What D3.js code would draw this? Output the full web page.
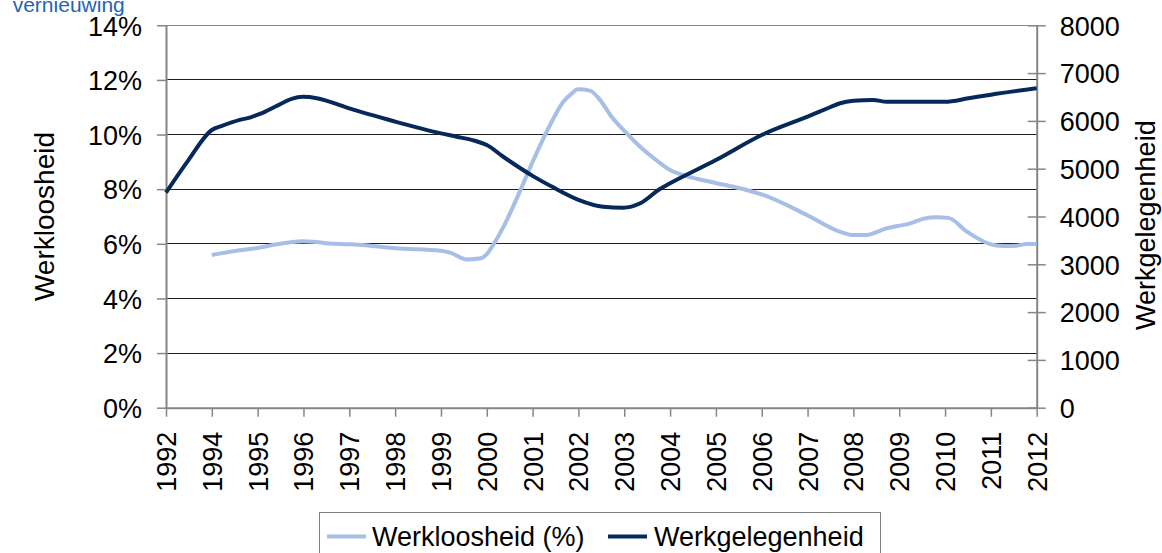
<!DOCTYPE html>
<html>
<head>
<meta charset="utf-8">
<script src="https://cdn.jsdelivr.net/npm/d3@7"></script>
<style>
  html, body { margin: 0; padding: 0; background: #ffffff; }
  svg { display: block; font-family: "Liberation Sans", Arial, sans-serif; }
</style>
</head>
<body>
<svg id="chart" width="1162" height="553"></svg>
<script>
// ---- data ----
const xLabels = ["1992","1994","1995","1996","1997","1998","1999","2000","2001","2002","2003","2004","2005","2006","2007","2008","2009","2010","2011","2012"];
const leftTicks = [0, 0.02, 0.04, 0.06, 0.08, 0.10, 0.12, 0.14];
const rightTicks = [0, 1000, 2000, 3000, 4000, 5000, 6000, 7000, 8000];
const seriesNames = ["Werkloosheid (%)", "Werkgelegenheid"];

// Werkgelegenheid (right axis): position along category axis, value
const empPos = [0, 0.49, 1.0, 1.22, 1.61, 1.83, 2.05, 2.45, 2.74, 2.98, 3.29, 3.51, 4.02, 5.0, 6.0, 6.34, 6.74, 7.0, 7.36, 8.0, 8.45, 9.0, 9.54, 9.98, 10.35, 10.77, 11.0, 12.0, 13.0, 14.0, 14.49, 14.71, 15.0, 15.43, 15.73, 17.0, 17.51, 18.0, 19.0];
const empVal = [4500, 5180, 5810, 5895, 6020, 6070, 6145, 6330, 6460, 6505, 6475, 6420, 6255, 5985, 5740, 5670, 5585, 5495, 5250, 4850, 4610, 4350, 4205, 4184, 4276, 4569, 4694, 5180, 5705, 6090, 6285, 6370, 6420, 6437, 6400, 6400, 6473, 6548, 6682];

// Werkloosheid (left axis, fraction)
const unempPos = [1.0, 1.5, 2.0, 2.55, 2.98, 3.21, 3.5, 4.0, 4.45, 5.0, 6.0, 6.2, 6.56, 6.85, 7.0, 7.14, 7.36, 7.72, 8.0, 8.38, 8.67, 8.85, 8.99, 9.25, 9.47, 9.72, 10.05, 10.34, 10.74, 11.0, 11.36, 12.02, 12.67, 13.03, 13.98, 14.71, 15.0, 15.25, 15.73, 16.24, 16.53, 16.82, 17.07, 17.48, 17.98, 18.27, 18.56, 18.78, 19.0];
const unempVal = [5.59, 5.74, 5.85, 6.02, 6.09, 6.08, 6.02, 5.98, 5.93, 5.84, 5.75, 5.68, 5.43, 5.46, 5.62, 5.96, 6.61, 7.91, 9.0, 10.35, 11.2, 11.5, 11.66, 11.61, 11.27, 10.66, 10.05, 9.56, 9.01, 8.70, 8.48, 8.22, 7.97, 7.79, 7.06, 6.44, 6.32, 6.32, 6.57, 6.75, 6.92, 6.97, 6.95, 6.44, 5.99, 5.92, 5.93, 5.99, 5.99].map(v => v / 100);

// ---- layout ----
const L = 166, R = 1036.7, T = 25.3, B = 407.7;
const cLight = "#a7bfe7", cDark = "#06295a", axisCol = "#868686", gridCol = "#1e1e1e";

const svg = d3.select("#chart");
const x = d3.scaleLinear().domain([0, xLabels.length - 1]).range([L, R]);
const yL = d3.scaleLinear().domain([0, 0.14]).range([B, T]);
const yR = d3.scaleLinear().domain([0, 8000]).range([B, T]);

// title fragment at top-left (cut off by the top edge, as in the original)
svg.append("text").attr("x", 12.7).attr("y", 11.5).attr("font-size", 21).attr("fill", "#1f64b4").text("vernieuwing");

// gridlines
svg.append("g").selectAll("line").data(leftTicks.filter(d => d > 0)).join("line")
  .attr("x1", L).attr("x2", R).attr("y1", d => yL(d)).attr("y2", d => yL(d))
  .attr("stroke", d => d === 0.14 ? axisCol : gridCol).attr("stroke-width", 1)
  .attr("shape-rendering", "crispEdges");

// left axis
const gL = svg.append("g").attr("transform", `translate(${L},0)`)
  .call(d3.axisLeft(yL).tickValues(leftTicks).tickFormat(d3.format(".0%")).tickSizeInner(9).tickSizeOuter(0).tickPadding(15));
// right axis
const gR = svg.append("g").attr("transform", `translate(${R},0)`)
  .call(d3.axisRight(yR).tickValues(rightTicks).tickFormat(d3.format("d")).tickSizeInner(9).tickSizeOuter(0).tickPadding(14));
gR.selectAll(".tick line").attr("x1", -9);
// bottom axis
const gB = svg.append("g").attr("transform", `translate(0,${B})`)
  .call(d3.axisBottom(x).tickValues(d3.range(xLabels.length)).tickFormat(i => xLabels[i]).tickSizeInner(9).tickSizeOuter(0));
gB.selectAll(".tick text")
  .attr("transform", "translate(9.5,24) rotate(-90)")
  .attr("text-anchor", "end").attr("dy", 0).attr("y", 0).attr("x", 0);

[gL, gR, gB].forEach(g => {
  g.select(".domain").attr("stroke", axisCol).attr("stroke-width", 2);
  g.selectAll(".tick line").attr("stroke", axisCol).attr("stroke-width", 1.5);
  g.selectAll(".tick text").attr("fill", "#000").attr("font-size", 27)
    .attr("font-family", "'Liberation Sans', Arial, sans-serif");
});
gL.selectAll(".tick text").attr("dy", "0.36em");
gR.selectAll(".tick text").attr("dy", "0.36em");

// axis titles
svg.append("text").attr("transform", `translate(53.5,${(T + B) / 2}) rotate(-90)`)
  .attr("text-anchor", "middle").attr("font-size", 28).text("Werkloosheid");

svg.append("clipPath").attr("id", "rclip").append("rect")
  .attr("x", 1100).attr("y", 122).attr("width", 100).attr("height", 300);
svg.append("g").attr("clip-path", "url(#rclip)")
  .append("text")
  .attr("transform", "translate(1155,330) rotate(-90)")
  .attr("text-anchor", "start").attr("font-size", 27).text("Werkgelegenheid");

// lines
const lineL = d3.line().x(d => x(d[0])).y(d => yL(d[1])).curve(d3.curveMonotoneX);
const lineR = d3.line().x(d => x(d[0])).y(d => yR(d[1])).curve(d3.curveMonotoneX);

svg.append("path").datum(unempPos.map((p, i) => [p, unempVal[i]]))
  .attr("d", lineL).attr("fill", "none").attr("stroke", cLight).attr("stroke-width", 4)
  .attr("stroke-linejoin", "round");
svg.append("path").datum(empPos.map((p, i) => [p, empVal[i]]))
  .attr("d", lineR).attr("fill", "none").attr("stroke", cDark).attr("stroke-width", 4)
  .attr("stroke-linejoin", "round");

// legend
const lg = svg.append("g");
lg.append("rect").attr("x", 319.5).attr("y", 512.5).attr("width", 561).attr("height", 50)
  .attr("fill", "#fff").attr("stroke", "#808080").attr("stroke-width", 1);
const legItems = [
  { name: seriesNames[0], color: cLight, x0: 327, tx: 372 },
  { name: seriesNames[1], color: cDark, x0: 608, tx: 654 }
];
legItems.forEach(it => {
  lg.append("line").attr("x1", it.x0).attr("x2", it.x0 + 39).attr("y1", 536.5).attr("y2", 536.5)
    .attr("stroke", it.color).attr("stroke-width", 4);
  lg.append("text").attr("x", it.tx).attr("y", 545.5).attr("font-size", 27).text(it.name);
});
</script>
</body>
</html>
